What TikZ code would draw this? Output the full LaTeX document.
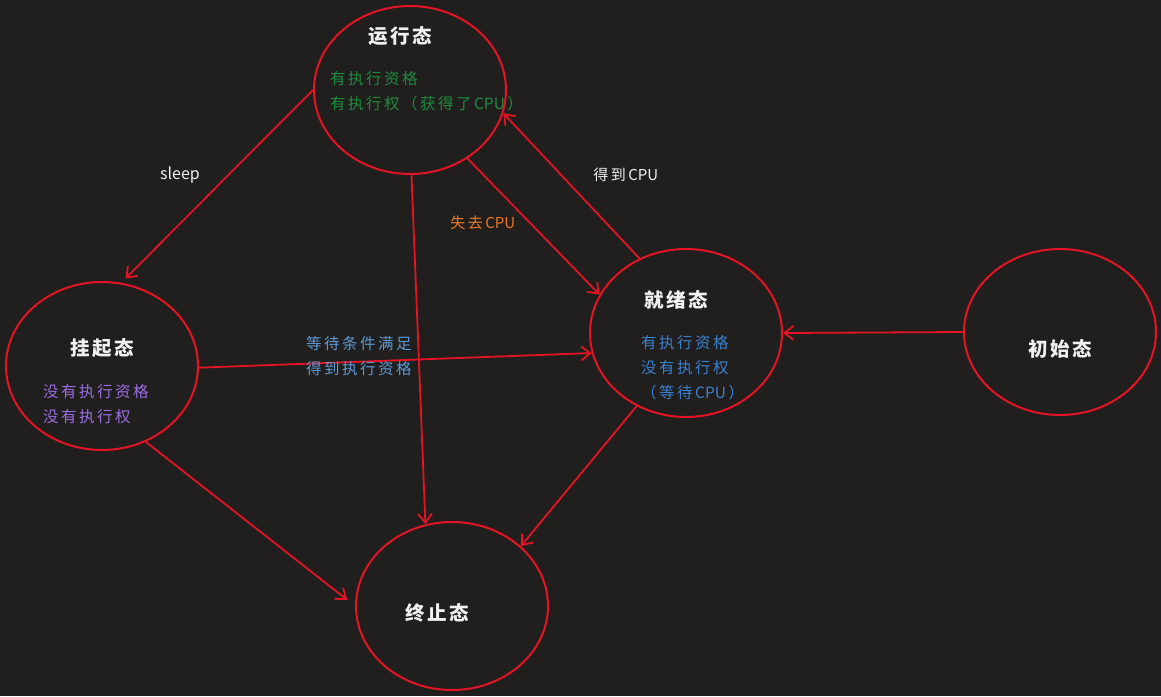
\documentclass[tikz,border=0pt]{standalone}
\usepackage{fontspec}
\usetikzlibrary{shapes.geometric,arrows.meta}
\newfontfamily\cjk[LetterSpace=16]{Noto Sans CJK SC}
\newfontfamily\cjktitle[LetterSpace=12]{Noto Sans CJK SC}
\newfontfamily\cjkplain{Noto Sans CJK SC}
\newcommand\cpuword{\kern2.5pt{\cjkplain CPU}\kern2.5pt}
\definecolor{bg}{RGB}{32,31,30}
\definecolor{edgered}{RGB}{228,20,36}
\definecolor{titlewhite}{RGB}{240,240,240}
\definecolor{rungreen}{RGB}{30,140,62}
\definecolor{readyblue}{RGB}{58,128,208}
\definecolor{waitblue}{RGB}{92,152,212}
\definecolor{susppurple}{RGB}{156,108,228}
\definecolor{loseorange}{RGB}{236,120,42}
\begin{document}
\begin{tikzpicture}[x=1pt,y=-1pt,
   state/.style={ellipse, draw=edgered, line width=2pt,
                 minimum width=192pt, minimum height=168pt, inner sep=0pt},
   title/.style={text=titlewhite, inner sep=0pt,
                 font=\cjktitle\bfseries\fontsize{19.5pt}{22pt}\selectfont},
   info/.style={align=left, anchor=west, inner sep=0pt,
                font=\cjk\fontsize{15.5pt}{25pt}\selectfont},
   lbl/.style={inner sep=0pt, font=\cjk\fontsize{15pt}{25pt}\selectfont},
   trans/.style={draw=edgered, line width=1.8pt,
                 -{Straight Barb[length=9pt,width=14pt,line width=1.8pt]}}]

\useasboundingbox[fill=bg] (0,0) rectangle (1161,696);

% states
\node[state] (run)   at (410,90)  {};
\node[state] (ready) at (686,333) {};
\node[state] (susp)  at (102,366) {};
\node[state] (term)  at (452,606) {};
\node[state, minimum height=166pt] (init) at (1060,332) {};

% texts in the states
\node[title] (runT)   at (400,36)  {运行态};
\node[info, text=rungreen] (runI) at (330,91)
   {有执行资格\\有执行权（获得了\cpuword）};
\node[title] (readyT) at (676,300) {就绪态};
\node[info, text=readyblue] (readyI) at (641,368)
   {有执行资格\\没有执行权\\（等待\cpuword）};
\node[title] (suspT)  at (102,348) {挂起态};
\node[info, text=susppurple] (suspI) at (43,404)
   {没有执行资格\\没有执行权};
\node[title] (termT)  at (437,613) {终止态};
\node[title] (initT)  at (1060,349) {初始态};

% transitions
\draw[trans, shorten >=6pt] (run.180) -- (susp.77);
\draw[trans] (run.-89) -- (term.108);
\draw[trans] (run.-50) -- (ready.156);
\draw[trans] (ready.122) -- (run.-14);
\draw[trans] (susp.-1) -- (ready.-168);
\draw[trans, shorten >=10pt] (susp.-60) -- (term.180);
\draw[trans] (ready.-124) -- (term.41);
\draw[trans] (init.180) -- (ready.0);

% labels
\node[lbl, text=titlewhite, font=\cjkplain\fontsize{16pt}{20pt}\selectfont]
   (sleepL) at (180,175) {sleep};
\node[lbl, text=titlewhite] (getL)  at (627,175) {得到\cpuword};
\node[lbl, text=loseorange] (loseL) at (484,223) {失去\cpuword};
\node[lbl, info, text=waitblue] (waitL) at (306,356)
   {等待条件满足\\得到执行资格};

\end{tikzpicture}
\end{document}
